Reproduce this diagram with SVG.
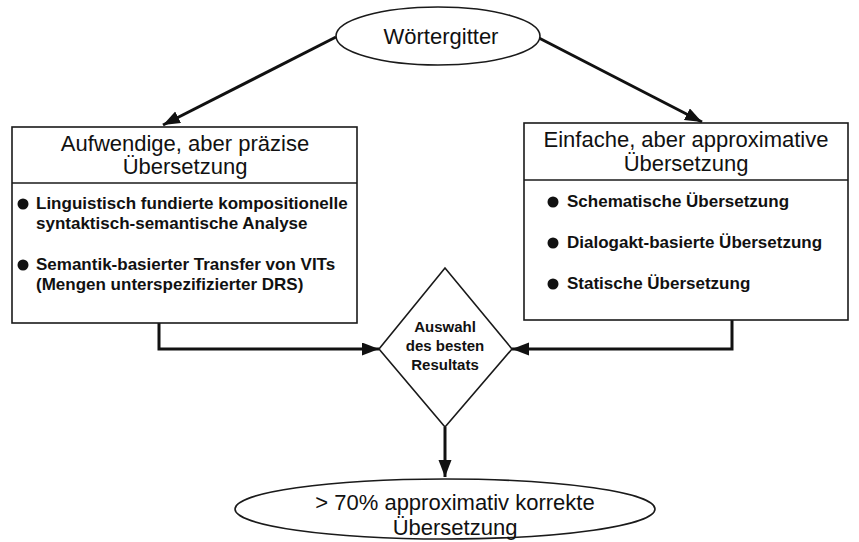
<svg xmlns="http://www.w3.org/2000/svg" width="859" height="542" viewBox="0 0 859 542">
<defs>
<style>
.shape{fill:#fff;stroke:#1a1a1a;stroke-width:1.6}
.conn{fill:none;stroke:#111;stroke-width:3}
.hd{font-family:"Liberation Sans",Arial,sans-serif;font-size:22px;fill:#111;text-anchor:middle}
.bl{font-family:"Liberation Sans",Arial,sans-serif;font-size:17px;font-weight:bold;fill:#111}
.dm{font-family:"Liberation Sans",Arial,sans-serif;font-size:15px;font-weight:bold;fill:#111;text-anchor:middle}
.dot{fill:#111}
</style>
<marker id="ah" markerUnits="userSpaceOnUse" markerWidth="20" markerHeight="14" refX="17" refY="6.5" orient="auto">
<path d="M0,0 L17,6.5 L0,13 z" fill="#111"/>
</marker>
</defs>
<rect width="859" height="542" fill="#fff"/>
<g id="connectors">
<line class="conn" x1="336" y1="37" x2="163" y2="125" marker-end="url(#ah)"/>
<line class="conn" x1="539" y1="38" x2="702" y2="122" marker-end="url(#ah)"/>
<polyline class="conn" points="159,323 159,349 379,349" marker-end="url(#ah)"/>
<polyline class="conn" points="732,320 732,349 512,349" marker-end="url(#ah)"/>
<line class="conn" x1="445" y1="427" x2="445" y2="477" marker-end="url(#ah)"/>
</g>
<g id="woertergitter">
<ellipse class="shape" cx="438" cy="36" rx="102" ry="29"/>
<text class="hd" x="441" y="44">Wörtergitter</text>
</g>
<g id="aufwendig">
<rect class="shape" x="12" y="127" width="345" height="196"/>
<line class="shape" x1="12" y1="183" x2="357" y2="183"/>
<text class="hd" x="185" y="151">Aufwendige, aber präzise</text>
<text class="hd" x="185" y="174">Übersetzung</text>
<circle class="dot" cx="23" cy="204" r="5.5"/>
<text class="bl" x="36" y="209">Linguistisch fundierte kompositionelle</text>
<text class="bl" x="36" y="229">syntaktisch-semantische Analyse</text>
<circle class="dot" cx="23" cy="265" r="5.5"/>
<text class="bl" x="36" y="270">Semantik-basierter Transfer von VITs</text>
<text class="bl" x="36" y="290">(Mengen unterspezifizierter DRS)</text>
</g>
<g id="einfach">
<rect class="shape" x="524" y="123" width="324" height="197"/>
<line class="shape" x1="524" y1="180" x2="848" y2="180"/>
<text class="hd" x="686" y="147">Einfache, aber approximative</text>
<text class="hd" x="686" y="171">Übersetzung</text>
<circle class="dot" cx="553" cy="202" r="5.5"/>
<text class="bl" x="567" y="207">Schematische Übersetzung</text>
<circle class="dot" cx="553" cy="243" r="5.5"/>
<text class="bl" x="567" y="248">Dialogakt-basierte Übersetzung</text>
<circle class="dot" cx="553" cy="284" r="5.5"/>
<text class="bl" x="567" y="289">Statische Übersetzung</text>
</g>
<g id="auswahl">
<polygon class="shape" points="445,268 512,349 445,427 379,349"/>
<text class="dm" x="445" y="332">Auswahl</text>
<text class="dm" x="445" y="351">des besten</text>
<text class="dm" x="445" y="370">Resultats</text>
</g>
<g id="ergebnis">
<ellipse class="shape" cx="445" cy="509" rx="210" ry="30"/>
<text class="hd" x="455" y="510">&gt; 70% approximativ korrekte</text>
<text class="hd" x="455" y="535">Übersetzung</text>
</g>
</svg>
